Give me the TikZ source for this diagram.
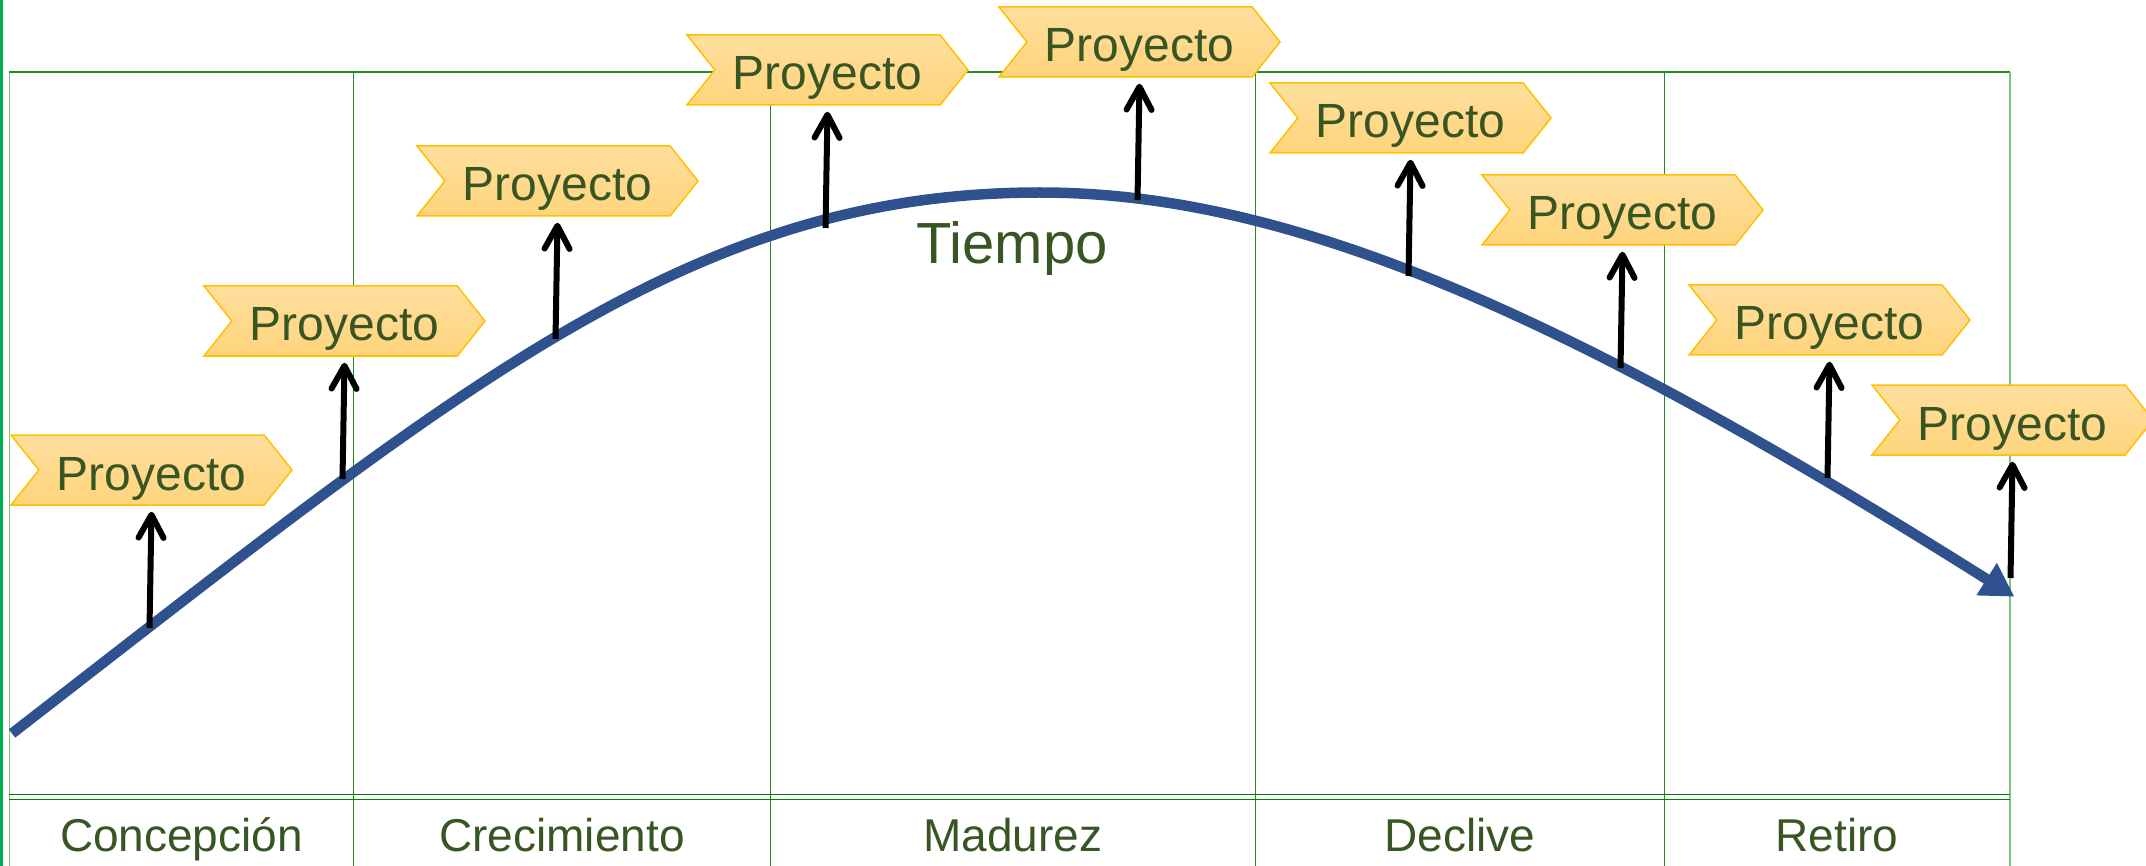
\documentclass[tikz,border=0pt]{standalone}
\usepackage{fontspec}
\setmainfont{Liberation Sans}
\usetikzlibrary{arrows.meta,shapes.symbols}
\definecolor{txtgreen}{HTML}{375623}
\definecolor{boxline}{HTML}{FFC000}
\definecolor{boxtop}{HTML}{FFDF9E}
\definecolor{boxbot}{HTML}{FFD47C}
\definecolor{curveblue}{HTML}{2F528F}
\definecolor{gridgreen}{HTML}{228B22}
\definecolor{gridlight}{HTML}{7CC47C}
\definecolor{edgegreen}{HTML}{00B050}
\definecolor{dblgreen}{HTML}{008000}
\begin{document}
\begin{tikzpicture}[x=1pt,y=-1pt,
  proj/.style={shape=signal, signal from=west, signal to=east, signal pointer angle=103,
    minimum width=281pt, minimum height=70pt, inner sep=0pt,
    draw=boxline, line width=1.5pt, top color=boxtop, bottom color=boxbot,
    text=txtgreen, font=\fontsize{48}{56}\selectfont, text height=45pt, text depth=5pt},
  arr/.style={draw=black, line width=6pt, -{Straight Barb[length=23pt,width=25pt,round]}},
  curve/.style={draw=curveblue, line width=10.5pt, -{Triangle[length=33pt,width=36pt]}},
  grid/.style={draw=gridgreen, line width=1.5pt},
  lab/.style={text=txtgreen, font=\fontsize{46}{54}\selectfont, anchor=base, inner sep=0pt},
  title/.style={text=txtgreen, font=\fontsize{58}{66}\selectfont, anchor=base, inner sep=0pt}]
\useasboundingbox (0,0) rectangle (2146,866);
% frame and grid
\draw[draw=edgegreen, line width=3pt] (1.5,0) -- (1.5,866);
\draw[draw=gridlight, line width=1.5pt] (9.5,72) -- (9.5,866);
\draw[grid] (9,72) -- (2010,72);
\foreach \xx in {353.5,770.5,1255.5,1664.5} \draw[grid] (\xx,72) -- (\xx,866);
\draw[draw=gridlight, line width=2.5pt] (2010,72) -- (2010,866);
\draw[draw=dblgreen, line width=1.5pt] (9,794.5) -- (2010,794.5);
\draw[draw=dblgreen, line width=1.5pt] (9,799.5) -- (2010,799.5);
% column labels
\node[lab] (l1) at (181.5,851) {Concepción};
\node[lab] (l2) at (562,851) {Crecimiento};
\node[lab] (l3) at (1013,851) {Madurez};
\node[lab] (l4) at (1460,851) {Declive};
\node[lab] (l5) at (1837,851) {Retiro};
% time curve
\coordinate (cs) at (12,733.5);
\coordinate (cp) at (1040,192.5);
\coordinate (ce) at (2014.5,596.7);
\draw[curve] (cs) .. controls (462,384.75) and (690,192.5) .. (cp)
  .. controls (1290,192.5) and (1564.5,313.2) .. (ce);
\node[title] (tiempo) at (1012,264) {Tiempo};
% points on the curve
\coordinate (c1) at (149.5,628);
\coordinate (c2) at (342.5,479);
\coordinate (c3) at (555.5,339);
\coordinate (c4) at (825.5,228);
\coordinate (c5) at (1137.5,200);
\coordinate (c6) at (1408.5,276);
\coordinate (c7) at (1620.5,368);
\coordinate (c8) at (1827.5,478);
\coordinate (c9) at (2010.5,578);
% project boxes
\node[proj] (p1) at (151.5,470) {Proyecto};
\node[proj] (p2) at (344.5,321) {Proyecto};
\node[proj] (p3) at (557.5,181) {Proyecto};
\node[proj] (p4) at (827.5,70) {Proyecto};
\node[proj] (p5) at (1139.5,42) {Proyecto};
\node[proj] (p6) at (1410.5,118) {Proyecto};
\node[proj] (p7) at (1622.5,210) {Proyecto};
\node[proj] (p8) at (1829.5,320) {Proyecto};
\node[proj] (p9) at (2012.5,420) {Proyecto};
% arrows
\foreach \i in {1,...,9} \draw[arr] (c\i) -- ([yshift=-6pt]p\i.south);
\end{tikzpicture}
\end{document}
